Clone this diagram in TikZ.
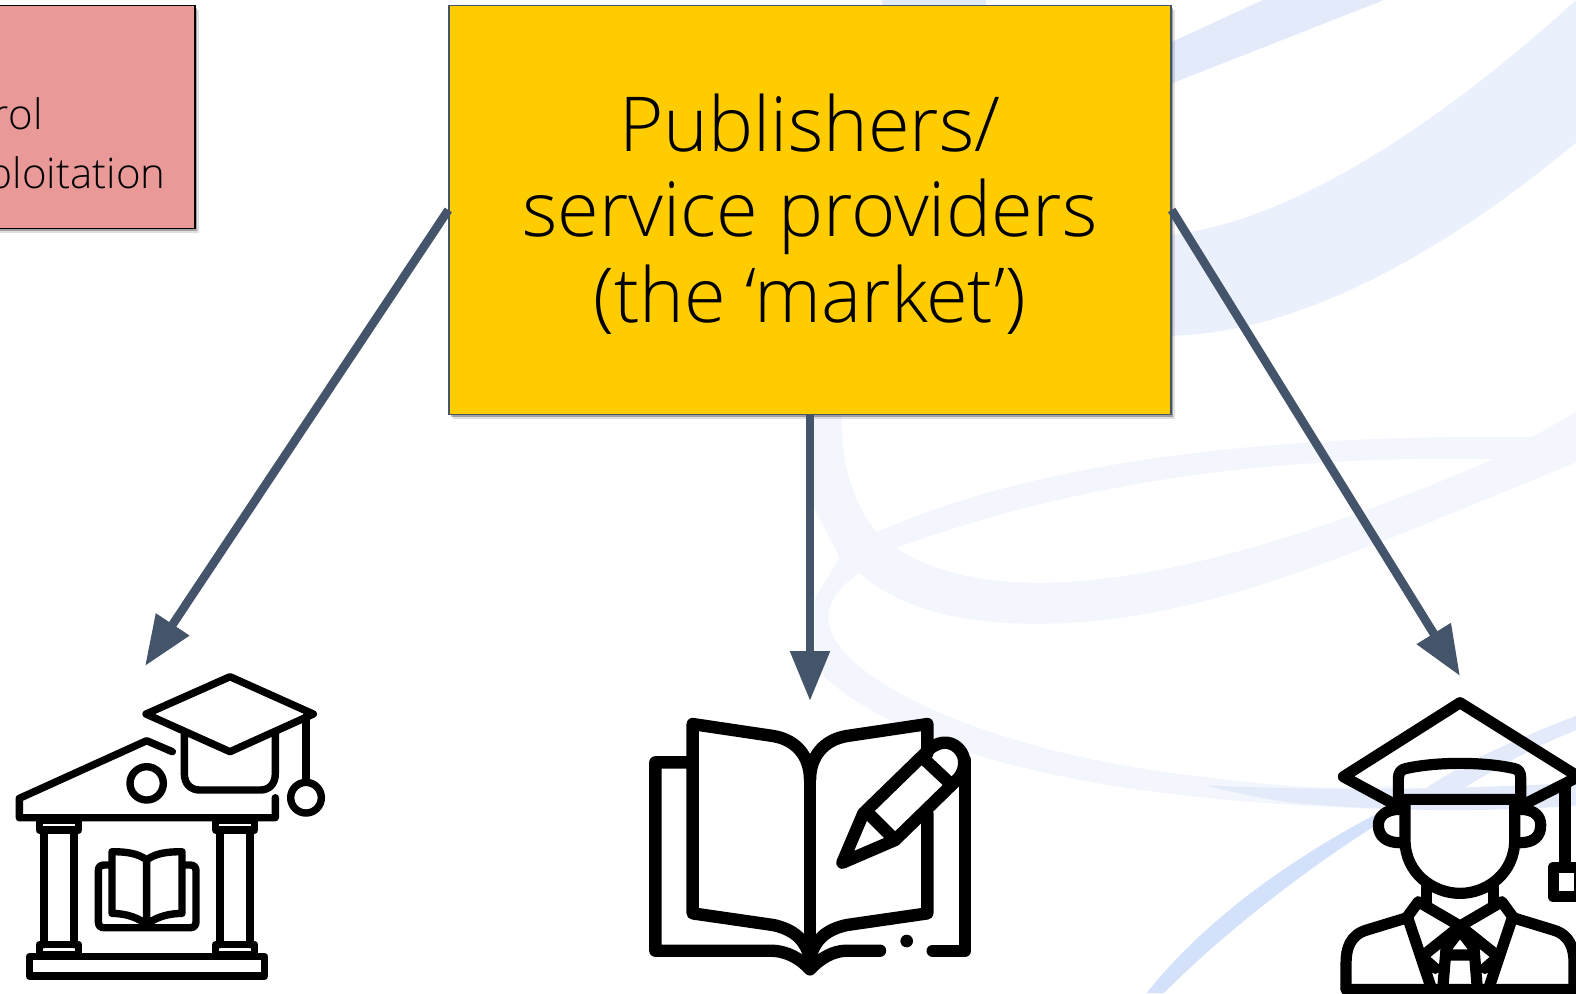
\documentclass[tikz,border=0pt]{standalone}
\usepackage{fontspec}
\setmainfont{Open Sans}[UprightFont=* Light]
\usetikzlibrary{arrows.meta,shadows}
\definecolor{arrowc}{HTML}{44546A}
\definecolor{goldc}{HTML}{FFCC00}
\definecolor{pinkc}{HTML}{EA9999}
\definecolor{swa}{HTML}{E3EBFB}
\definecolor{swd}{HTML}{EBF1FC}
\definecolor{swb}{HTML}{F3F7FD}
\definecolor{swc}{HTML}{D3E1FA}
\tikzset{
  px/.style={x=0.5pt,y=-0.5pt},
  flow/.style={draw=arrowc,line width=4.3pt,-{Triangle[length=25pt,width=19pt,fill=arrowc]}},
  box/.style={draw=#1,line width=0.7pt,rectangle,inner sep=0pt,
    general shadow={shadow xshift=2.2pt,shadow yshift=-2.2pt,opacity=.12,fill=black},
    general shadow={shadow xshift=1.1pt,shadow yshift=-1.1pt,opacity=.28,fill=black}},
  icona/.style={draw=black,line width=3.7pt,line join=round,line cap=round},
  iconb/.style={draw=black,line width=6.2pt,line join=round,line cap=round},
  iconc/.style={draw=black,line width=5.6pt,line join=round,line cap=round},
  zoomed/.style={x=0.16667pt,y=-0.16667pt}
}
\begin{document}
\begin{tikzpicture}[px]
\useasboundingbox[clip] (0,0) rectangle (1576,993);
% swooshes, traced in the crop's own scale
\begin{scope}[x=0.24745pt,y=-0.31666pt,shift={(1616.7,0)}]
\fill[swa] (165,0) rectangle (375,12);
\fill[swa] (740,70) -- (935,0) -- (1180,0) -- (740,135) -- cycle;
\fill[swd] (740,372) .. controls (1000,350) and (1300,190) .. (1568,0) -- (1568,225) .. controls (1300,400) and (1000,530) .. (740,530) -- cycle;
\fill[swb] (85,650) .. controls (80,730) and (110,800) .. (155,840) .. controls (500,720) and (1000,685) .. (1480,690) -- (1568,650) -- (1568,730) .. controls (1100,880) and (800,985) .. (480,985) .. controls (320,985) and (200,960) .. (120,905) .. controls (70,930) and (50,960) .. (60,990) .. controls (90,1080) and (400,1190) .. (800,1225) .. controls (950,1240) and (1100,1250) .. (1200,1240) -- (1200,1278) .. controls (850,1270) and (300,1240) .. (50,1070) -- (30,1040) -- (30,945) -- (80,880) -- (20,790) -- (20,650) -- cycle;
\fill[white] (195,865) .. controls (600,750) and (1000,720) .. (1400,725) .. controls (1000,860) and (700,920) .. (480,920) .. controls (360,920) and (260,900) .. (195,865) -- cycle;
\fill[swa] (820,1240) .. controls (1100,1250) and (1350,1245) .. (1568,1236) -- (1568,1272) .. controls (1400,1282) and (1200,1282) .. (1000,1268) .. controls (940,1262) and (880,1252) .. (820,1240) -- cycle;
\fill[swc] (700,1568) .. controls (820,1450) and (1000,1350) .. (1190,1275) -- (1215,1278) .. controls (1040,1360) and (860,1470) .. (735,1568) -- cycle;
\fill[swa] (1267,1243) .. controls (1360,1195) and (1470,1160) .. (1568,1130) -- (1568,1153) .. controls (1480,1180) and (1400,1215) .. (1310,1260) -- cycle;
\end{scope}
% pink box
\node[box=black,fill=pinkc,anchor=north east,minimum width=200pt,minimum height=111.5pt] (pink) at (195.7,5) {};
\node[anchor=base east,font=\fontsize{21}{24}\selectfont,inner sep=0pt] (pinka) at (43,129) {rol};
\node[anchor=base east,font=\fontsize{21}{24}\selectfont,inner sep=0pt] (pinkb) at (166,188) {ploitation};
% publishers box
\node[box=arrowc,fill=goldc,minimum width=361pt,minimum height=204.5pt] (pub) at (810,210) {};
\node[align=center,font=\fontsize{37.9}{42.75}\selectfont,inner sep=0pt] (pubtext) at (810,214) {Publishers/\\service providers\\(the ‘market’)};
% arrow targets
\coordinate (tipa) at (145,666);
\coordinate (tipb) at (810,701);
\coordinate (tipc) at (1460,676);
\draw[flow] (pub.west) -- (tipa);
\draw[flow] (pub.south) -- (tipb);
\draw[flow] (pub.east) -- (tipc);
% institution icon
\begin{scope}[zoomed,shift={(0,1950)}]
\draw[icona] (690,80) -- (940,192) -- (690,305) -- (438,192) -- cycle;
\draw[icona] (553,250) -- (553,370) .. controls (553,405) and (575,420) .. (600,420) -- (780,420) .. controls (805,420) and (826,405) .. (826,370) -- (826,250);
\draw[icona] (918,200) -- (918,395);
\draw[icona] (918,443) circle[radius=46];
\draw[icona] (517,305) -- (440,272) -- (58,445) -- (58,503) -- (826,503) -- (826,443);
\draw[icona] (440,400) circle[radius=50];
\draw[icona] (118,512) rectangle (236,540);
\draw[icona] (647,512) rectangle (764,540);
\draw[icona] (118,884) rectangle (236,915);
\draw[icona] (647,884) rectangle (764,915);
\draw[icona] (132,540) -- (132,884) (222,540) -- (222,884) (660,540) -- (660,884) (750,540) -- (750,884);
\draw[icona] (88,920) rectangle (794,978);
\draw[icona] (330,645) -- (312,645) .. controls (300,645) and (295,652) .. (295,662) -- (295,815) .. controls (295,828) and (302,833) .. (312,833) -- (571,833) .. controls (582,833) and (588,826) .. (588,815) -- (588,662) .. controls (588,652) and (582,645) .. (571,645) -- (550,645);
\draw[icona] (440,630) .. controls (415,610) and (380,605) .. (336,605) -- (336,790) .. controls (380,790) and (420,805) .. (440,825) .. controls (460,805) and (500,790) .. (546,790) -- (546,605) .. controls (500,605) and (465,610) .. (440,630) -- (440,825);
\end{scope}
% book and pencil icon
\begin{scope}[zoomed,shift={(1890,1920)}]
\draw[iconb] (892,340) -- (892,252) -- (650,288) .. controls (580,300) and (540,350) .. (540,420) .. controls (540,350) and (500,300) .. (430,288) -- (188,252) -- (188,820) -- (430,855) .. controls (490,868) and (530,900) .. (540,960);
\draw[iconb] (540,420) -- (540,985);
\draw[iconb] (892,520) -- (892,820) -- (650,855) .. controls (590,868) and (550,900) .. (540,960);
\draw[iconb] (188,367) -- (76,367) -- (76,932) -- (420,932) .. controls (470,932) and (510,955) .. (540,988) .. controls (570,955) and (610,932) .. (650,932) -- (750,932);
\fill[black] (830,903) circle[radius=19];
\draw[iconb] (908,932) -- (1005,932) -- (1005,360);
\draw[iconb] (700,520) -- (885,340) .. controls (920,300) and (960,300) .. (985,325) .. controls (1012,352) and (1005,392) .. (985,415) -- (795,600) -- (637,668) -- cycle;
\draw[iconb] (880,355) -- (960,430) (720,525) -- (790,595);
\end{scope}
% graduate icon
\begin{scope}[zoomed,shift={(3960,1860)}]
\draw[iconc] (218,550) -- (70,470) -- (420,248) -- (775,470) -- (618,550);
\draw[iconc] (235,538) -- (235,475) .. controls (235,455) and (245,447) .. (260,445) .. controls (350,425) and (490,425) .. (580,445) .. controls (595,447) and (602,455) .. (602,475) -- (602,538) -- cycle;
\draw[iconc] (255,540) -- (255,660) .. controls (255,760) and (340,820) .. (420,820) .. controls (500,820) and (584,760) .. (584,660) -- (584,540);
\draw[iconc] (240,568) .. controls (195,568) and (175,590) .. (175,615) .. controls (175,650) and (200,668) .. (240,668);
\draw[iconc] (600,568) .. controls (645,568) and (662,590) .. (662,615) .. controls (662,650) and (640,668) .. (600,668);
\draw[iconc] (320,790) -- (320,855) (520,790) -- (520,855);
\draw[iconc] (335,1108) -- (262,890) -- (295,845) -- (420,918) -- (545,845) -- (578,890) -- (505,1108);
\draw[iconc] (420,918) -- (305,1010) -- (345,1045) (420,918) -- (535,1010) -- (495,1045);
\draw[iconc] (378,985) -- (368,1108) (462,985) -- (472,1108) (390,1005) -- (450,1005) (378,985) -- (420,930) -- (462,985);
\draw[iconc] (78,1108) -- (78,1030) .. controls (78,985) and (90,945) .. (140,930) -- (255,895);
\draw[iconc] (585,895) -- (700,930) .. controls (750,945) and (762,985) .. (762,1030) -- (762,1108) -- (78,1108);
\draw[iconc] (735,500) -- (735,735);
\draw[iconc] (700,742) rectangle (780,830);
\end{scope}
\end{tikzpicture}
\end{document}
